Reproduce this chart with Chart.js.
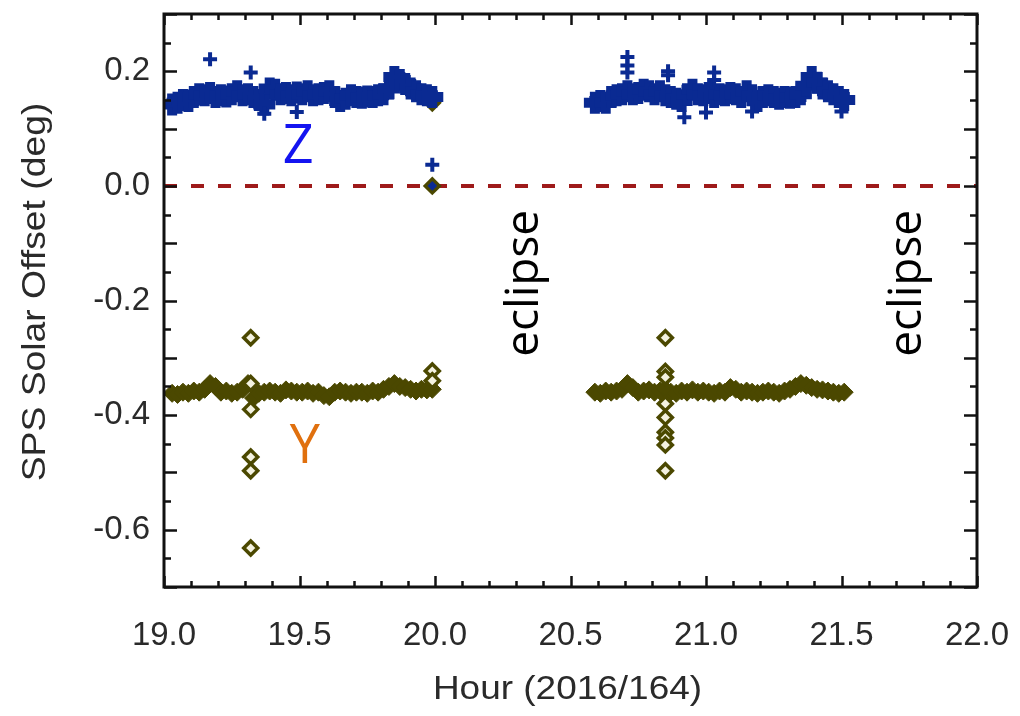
<!DOCTYPE html>
<html>
<head>
<meta charset="utf-8">
<script src="https://cdn.jsdelivr.net/npm/chart.js@4.4.1/dist/chart.umd.min.js"></script>
<style>
  html, body { margin: 0; padding: 0; background: #fff; }
  #wrap { width: 1020px; height: 716px; position: relative; }
</style>
</head>
<body>
<div id="wrap"><canvas id="mycanvas" width="1020" height="716"></canvas></div>
<script>
// sample cadence of the band values below (hours)
var step = 0.02;
var zStart1 = 19.03, zStart2 = 20.59;

// Z offset, first pass (19.03 .. 19.99)
var zBand1 = [0.142, 0.145, 0.150, 0.148, 0.155, 0.160, 0.158, 0.162, 0.155, 0.158,
              0.156, 0.160, 0.165, 0.158, 0.160, 0.155, 0.150, 0.142, 0.170, 0.168,
              0.160, 0.162, 0.158, 0.163, 0.160, 0.165, 0.158, 0.160, 0.162, 0.165,
              0.155, 0.148, 0.152, 0.158, 0.155, 0.154, 0.156, 0.155, 0.158, 0.160,
              0.170, 0.190, 0.185, 0.178, 0.170, 0.165, 0.160, 0.158, 0.155];
// Z offset, second pass (20.59 .. 21.51)
var zBand2 = [0.145, 0.148, 0.145, 0.155, 0.158, 0.160, 0.165, 0.160, 0.162, 0.168,
              0.165, 0.160, 0.165, 0.158, 0.155, 0.152, 0.148, 0.160, 0.168, 0.160,
              0.158, 0.162, 0.155, 0.160, 0.158, 0.162, 0.160, 0.155, 0.165, 0.158,
              0.148, 0.155, 0.158, 0.155, 0.152, 0.155, 0.154, 0.155, 0.160, 0.175,
              0.190, 0.180, 0.170, 0.165, 0.160, 0.155, 0.150];
// Y offset, first pass
var yBand1 = [-0.362, -0.364, -0.360, -0.362, -0.358, -0.360, -0.355, -0.345, -0.350, -0.360,
              -0.358, -0.362, -0.360, -0.355, -0.345, -0.370, -0.362, -0.360, -0.358, -0.360,
              -0.362, -0.356, -0.358, -0.360, -0.360, -0.358, -0.362, -0.360, -0.366, -0.368,
              -0.360, -0.358, -0.360, -0.362, -0.360, -0.360, -0.362, -0.358, -0.360, -0.355,
              -0.350, -0.345, -0.350, -0.352, -0.355, -0.358, -0.355, -0.356, -0.355];
// Y offset, second pass
var yBand2 = [-0.360, -0.362, -0.358, -0.360, -0.358, -0.355, -0.345, -0.352, -0.360, -0.358,
              -0.356, -0.360, -0.358, -0.355, -0.360, -0.362, -0.358, -0.360, -0.356, -0.360,
              -0.358, -0.360, -0.362, -0.358, -0.360, -0.352, -0.355, -0.360, -0.358, -0.360,
              -0.362, -0.360, -0.358, -0.360, -0.362, -0.358, -0.355, -0.350, -0.345, -0.348,
              -0.352, -0.355, -0.356, -0.358, -0.360, -0.362, -0.360];

// isolated points
var zOutHour = [19.17, 19.32, 19.49, 19.37, 19.99, 20.71, 20.71, 20.71, 20.86, 20.86, 20.92, 21.00, 21.03, 21.03, 21.17, 21.50];
var zOutVal  = [0.221, 0.198, 0.129, 0.126, 0.037, 0.225, 0.210, 0.198, 0.200, 0.193, 0.120, 0.128, 0.198, 0.185, 0.130, 0.130];
var yOutHour = [19.32, 19.32, 19.32, 19.32, 19.32, 19.32, 19.99, 19.99, 19.99, 19.99,
                20.85, 20.85, 20.85, 20.85, 20.85, 20.85, 20.85, 20.85, 20.85];
var yOutVal  = [-0.265, -0.345, -0.390, -0.473, -0.497, -0.632, 0.145, -0.323, -0.340, 0.000,
                -0.265, -0.324, -0.334, -0.380, -0.404, -0.430, -0.440, -0.452, -0.497];
var zZeroHour = [19.99];
var zZeroVal = [0.0];

var refHour = [19.0, 22.0];
var refVal = [0, 0];

var xTickLabels = ['19.0', '19.5', '20.0', '20.5', '21.0', '21.5', '22.0'];
var yTickLabels = ['0.2', '0.0', '-0.2', '-0.4', '-0.6'];
var xTitle = 'Hour (2016/164)';
var yTitle = 'SPS Solar Offset (deg)';

var notes = [
  { text: 'Z', hour: 19.495, val: 0.066, color: '#1414f0', rot: 0, size: 54 },
  { text: 'Y', hour: 19.52, val: -0.457, color: '#e0700e', rot: 0, size: 54 },
  { text: 'eclipse', hour: 20.332, val: -0.17, color: '#000', rot: -Math.PI / 2, size: 46 },
  { text: 'eclipse', hour: 21.745, val: -0.17, color: '#000', rot: -Math.PI / 2, size: 46 }
];

var plotTop = 14;
var blue = '#0a2a92';
var olive = '#4b4800';
var textGrey = '#2a2a2a';

function band(start, vals) {
  var pts = [];
  for (var i in vals) {
    pts.push({ x: +(start + i * step).toFixed(3), y: vals[i] });
  }
  return pts;
}
function pairs(hours, vals) {
  var pts = [];
  for (var i in vals) pts.push({ x: hours[i], y: vals[i] });
  return pts;
}
function near(v, m) {
  var r = Math.round(v * 100);
  return Math.abs(r % m) === 0;
}

var frame = {
  id: 'frame',
  // chart.js keeps extra room above for the top tick label; pull the plot box up to the frame line
  afterLayout: function(chart) {
    var y = chart.scales.y;
    if (chart.chartArea.top > plotTop) {
      chart.chartArea.top = plotTop;
      chart.chartArea.height = chart.chartArea.bottom - plotTop;
      y.top = plotTop;
      y.height = y.bottom - plotTop;
      y.configure();
    }
  },
  afterDraw: function(chart) {
    var ctx = chart.ctx, a = chart.chartArea;
    var x = chart.scales.x, y = chart.scales.y;
    ctx.save();
    ctx.strokeStyle = '#111';
    ctx.lineWidth = 2.5;
    ctx.beginPath();
    x.ticks.forEach(function(t) {
      var px = Math.round(x.getPixelForValue(t.value)) + 0.5;
      var len = near(t.value, 50) ? 11 : 6;
      ctx.moveTo(px, a.bottom); ctx.lineTo(px, a.bottom - len);
      ctx.moveTo(px, a.top); ctx.lineTo(px, a.top + len);
    });
    y.ticks.forEach(function(t) {
      var py = Math.round(y.getPixelForValue(t.value)) + 0.5;
      var len = near(t.value, 10) ? 13 : 7;
      ctx.moveTo(a.left, py); ctx.lineTo(a.left + len, py);
      ctx.moveTo(a.right, py); ctx.lineTo(a.right - len, py);
    });
    ctx.stroke();
    ctx.lineWidth = 3;
    ctx.strokeRect(a.left, a.top, a.right - a.left, a.bottom - a.top);

    // axis titles, a little wider than the plain font like the original
    ctx.fillStyle = textGrey;
    ctx.font = '33px "Liberation Sans", Arial, sans-serif';
    ctx.textAlign = 'center';
    ctx.textBaseline = 'middle';
    ctx.save();
    ctx.translate((a.left + a.right) / 2 - 3, 690);
    ctx.scale(1.12, 1);
    ctx.fillText(xTitle, 0, 0);
    ctx.restore();
    ctx.save();
    ctx.translate(36, 292);
    ctx.rotate(-Math.PI / 2);
    ctx.scale(1.13, 1);
    ctx.fillText(yTitle, 0, 0);
    ctx.restore();
    ctx.restore();
  },
  afterDatasetsDraw: function(chart) {
    var ctx = chart.ctx;
    var x = chart.scales.x, y = chart.scales.y;
    ctx.save();
    ctx.textAlign = 'center';
    ctx.textBaseline = 'middle';
    notes.forEach(function(n) {
      ctx.save();
      ctx.font = n.size + 'px "Open Sans", "Noto Sans", sans-serif';
      ctx.translate(x.getPixelForValue(n.hour), y.getPixelForValue(n.val));
      ctx.rotate(n.rot);
      ctx.fillStyle = n.color;
      ctx.fillText(n.text, 0, 0);
      ctx.restore();
    });
    ctx.restore();
  }
};

var ctx = document.getElementById('mycanvas');
var axisFont = { family: '"Liberation Sans", Arial, sans-serif', size: 33 };

new Chart(ctx, {
  type: 'scatter',
  data: {
    datasets: [
      {
        label: 'zero', type: 'line', data: pairs(refHour, refVal), order: 9,
        borderColor: '#9e1a1a', borderWidth: 4, borderDash: [13, 14], pointRadius: 0
      },
      {
        label: 'Y band', data: band(zStart1, yBand1).concat(band(zStart2, yBand2)), order: 6,
        pointStyle: 'rectRot', pointRadius: 9, backgroundColor: olive, borderColor: olive, borderWidth: 1
      },
      {
        label: 'Y out', data: pairs(yOutHour, yOutVal), order: 5,
        pointStyle: 'rectRot', pointRadius: 7, backgroundColor: '#f4f2e0', borderColor: olive, borderWidth: 3.5
      },
      {
        label: 'Z band', data: band(zStart1, zBand1).concat(band(zStart2, zBand2)), order: 4,
        pointStyle: 'cross', pointRadius: 11, borderColor: blue, borderWidth: 10
      },
      {
        label: 'Z out', data: pairs(zOutHour, zOutVal), order: 3,
        pointStyle: 'cross', pointRadius: 7, borderColor: blue, borderWidth: 4
      },
      {
        label: 'Z zero', data: pairs(zZeroHour, zZeroVal), order: 2,
        pointStyle: 'rectRot', pointRadius: 6, backgroundColor: blue, borderColor: olive, borderWidth: 1.5
      }
    ]
  },
  options: {
    responsive: false,
    animation: false,
    layout: { padding: { top: 14, right: 43, left: 0, bottom: 0 } },
    plugins: { legend: { display: false }, tooltip: { enabled: false } },
    scales: {
      x: {
        type: 'linear', min: 19, max: 22,
        grid: { display: false, drawTicks: false },
        border: { display: false },
        ticks: {
          stepSize: 0.1, autoSkip: false, maxRotation: 0, padding: 29,
          color: textGrey, font: axisFont,
          callback: function(v) {
            return near(v, 50) ? xTickLabels[Math.round((v - 19) * 2)] : '';
          }
        },
        afterFit: function(s) {
          s.height = 129;
          s.paddingLeft = 0; s.paddingRight = 0;
        }
      },
      y: {
        type: 'linear', min: -0.7, max: 0.3,
        grid: { display: false, drawTicks: false },
        border: { display: false },
        ticks: {
          stepSize: 0.05, autoSkip: false, padding: 14,
          color: textGrey, font: axisFont,
          callback: function(v) {
            return near(v, 20) ? yTickLabels[Math.round((0.2 - v) * 5)] : '';
          }
        },
        afterFit: function(s) {
          s.width = 164;
          s.paddingTop = 0; s.paddingBottom = 0;
        }
      }
    }
  },
  plugins: [frame]
});
</script>
</body>
</html>
